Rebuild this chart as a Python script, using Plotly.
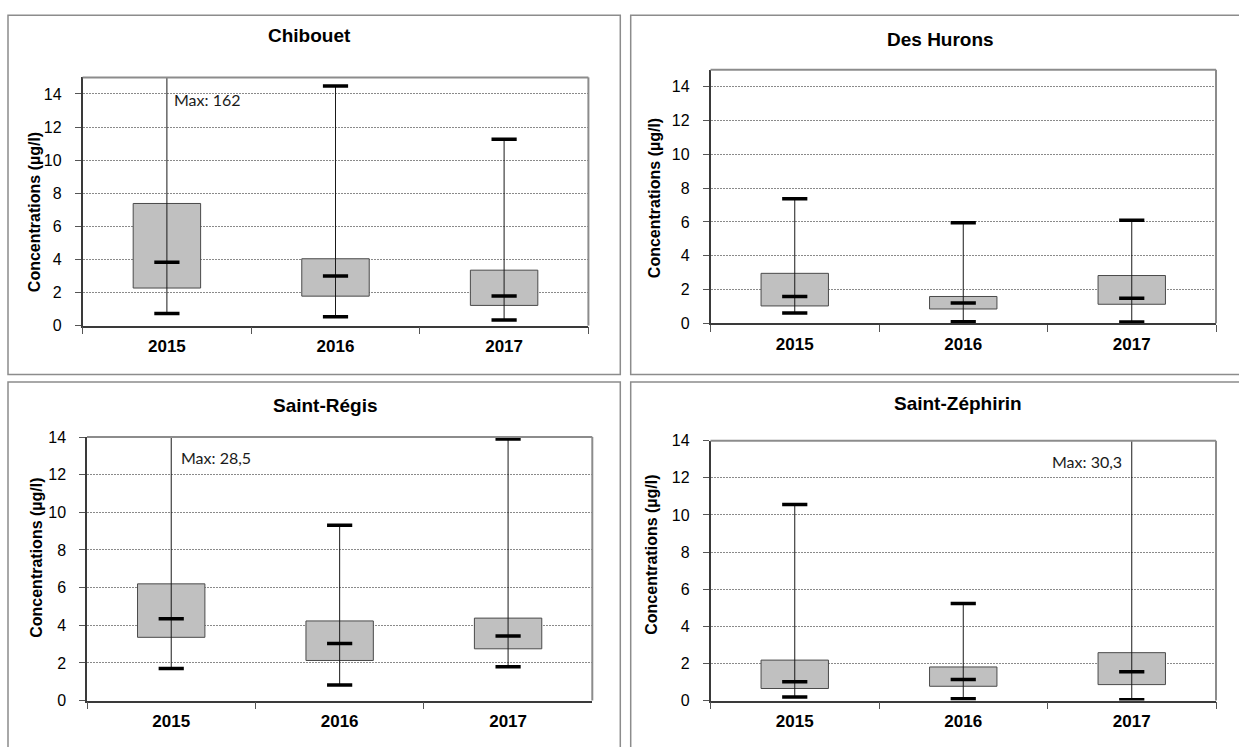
import plotly.graph_objects as go

# ---- data (µg/l) ----
years = ["2015", "2016", "2017"]
stations = ["Chibouet", "Des Hurons", "Saint-Régis", "Saint-Zéphirin"]

chibouet_min = [0.73, 0.53, 0.34]
chibouet_q1 = [2.27, 1.78, 1.22]
chibouet_med = [3.83, 3.00, 1.79]
chibouet_q3 = [7.38, 4.04, 3.35]
chibouet_max = [162, 14.48, 11.26]

hurons_min = [0.62, 0.10, 0.08]
hurons_q1 = [1.03, 0.85, 1.13]
hurons_med = [1.59, 1.20, 1.49]
hurons_q3 = [2.96, 1.59, 2.83]
hurons_max = [7.38, 5.95, 6.10]

regis_min = [1.71, 0.83, 1.80]
regis_q1 = [3.36, 2.13, 2.75]
regis_med = [4.35, 3.03, 3.43]
regis_q3 = [6.20, 4.23, 4.38]
regis_max = [28.5, 9.31, 13.90]

zephirin_min = [0.19, 0.10, 0.05]
zephirin_q1 = [0.65, 0.77, 0.86]
zephirin_med = [1.02, 1.14, 1.55]
zephirin_q3 = [2.18, 1.81, 2.58]
zephirin_max = [10.56, 5.23, 30.3]

y_max = [15, 15, 14, 14]
y_title = "Concentrations (µg/l)"

series = [
    (chibouet_min, chibouet_q1, chibouet_med, chibouet_q3, chibouet_max),
    (hurons_min, hurons_q1, hurons_med, hurons_q3, hurons_max),
    (regis_min, regis_q1, regis_med, regis_q3, regis_max),
    (zephirin_min, zephirin_q1, zephirin_med, zephirin_q3, zephirin_max),
]

# ---- layout geometry (pixels) ----
W, H = 1239, 747
# plot areas: left, right, top, bottom
plot_px = [
    (82.6, 588.4, 71.0, 325.0),
    (710.5, 1216.0, 63.3, 322.7),
    (87.0, 592.3, 439.0, 708.7),
    (710.5, 1216.0, 442.7, 708.7),
]
# outer frames: left, right, top, bottom
frame_px = [
    (8.0, 620.3, 7.3, 375.0),
    (630.7, 1250.0, 7.3, 375.0),
    (8.0, 620.3, 382.7, 760.0),
    (630.7, 1250.0, 382.7, 760.0),
]
title_px = [(309.5, 28.5), (940.0, 32.3), (325.0, 406.7), (958.0, 405.0)]
ytitle_px = [(34.4, 208.5), (654.6, 195.0), (36.6, 563.0), (651.5, 560.0)]


def px_x(v):
    return v / W


def px_y(v):
    return 1 - v / H


def fmt(v):
    s = f"{v:g}"
    return s.replace(".", ",")


fig = go.Figure()
AXIS_FONT = "Liberation Sans, Arial, sans-serif"

for i, (mn, q1, med, q3, mx) in enumerate(series):
    n = "" if i == 0 else str(i + 1)
    xa, ya = "x" + n, "y" + n
    # whiskers (min to max), behind the box
    wx, wy = [], []
    for k, yr in enumerate(years):
        wx += [yr, yr, None]
        wy += [mn[k], mx[k], None]
    fig.add_trace(go.Scatter(x=wx, y=wy, mode="lines", xaxis=xa, yaxis=ya,
                             line=dict(color="#1a1a1a", width=1),
                             hoverinfo="skip", showlegend=False))
    # interquartile box
    fig.add_trace(go.Bar(x=years, y=[b - a for a, b in zip(q1, q3)], base=q1,
                         width=0.4, xaxis=xa, yaxis=ya,
                         marker=dict(color="#c0c0c0",
                                     line=dict(color="#4a4a4a", width=1)),
                         showlegend=False))
    # caps and median ticks
    for vals in (mn, mx, med):
        fig.add_trace(go.Scatter(x=years, y=vals, mode="markers", xaxis=xa, yaxis=ya,
                                 marker=dict(symbol="line-ew", size=18,
                                             line=dict(color="#000000", width=3.5)),
                                 hoverinfo="skip", showlegend=False))

    L, R, T, B = plot_px[i]
    fig.layout["xaxis" + n] = dict(
        domain=[px_x(L), px_x(R)], anchor=ya, type="category",
        categoryorder="array", categoryarray=years, range=[-0.5, 2.5],
        tickson="boundaries", ticks="outside", ticklen=7, tickcolor="#555555",
        showline=True, linecolor="#3a3a3a", linewidth=1.5, showgrid=False,
        tickfont=dict(family=AXIS_FONT, size=17, color="#000000", weight="bold"),
        ticklabelstandoff=4, fixedrange=True,
    )
    fig.layout["yaxis" + n] = dict(
        domain=[px_y(B), px_y(T)], anchor=xa, range=[0, y_max[i]],
        tick0=0, dtick=2, ticks="outside", ticklen=6, tickcolor="#555555",
        showline=True, linecolor="#3a3a3a", linewidth=1.5,
        showgrid=True, gridcolor="#8a8a8a", gridwidth=1, griddash="2px,1px",
        zeroline=False,
        tickfont=dict(family=AXIS_FONT, size=16, color="#000000"),
        ticklabelstandoff=10, fixedrange=True,
    )
    # grey top/right edges of the plot area
    fig.add_shape(type="line", xref=xa + " domain", yref=ya + " domain",
                  x0=0, x1=1, y0=1, y1=1, line=dict(color="#8c8c8c", width=2))
    fig.add_shape(type="line", xref=xa + " domain", yref=ya + " domain",
                  x0=1, x1=1, y0=0, y1=1, line=dict(color="#8c8c8c", width=2))
    # outer chart frame
    fl, fr, ft, fb = frame_px[i]
    fig.add_shape(type="rect", xref="paper", yref="paper",
                  x0=px_x(fl), x1=px_x(fr), y0=px_y(fb), y1=px_y(ft),
                  line=dict(color="#8c8c8c", width=1.5), layer="below")
    # panel title
    tx, ty = title_px[i]
    fig.add_annotation(text=f"<b>{stations[i]}</b>", xref="paper", yref="paper",
                       x=px_x(tx), y=px_y(ty), xanchor="center", yanchor="middle",
                       showarrow=False,
                       font=dict(family=AXIS_FONT, size=19, color="#000000"))
    # y-axis title
    ax, ay = ytitle_px[i]
    fig.add_annotation(text=f"<b>{y_title}</b>", xref="paper", yref="paper",
                       x=px_x(ax), y=px_y(ay), xanchor="center", yanchor="middle",
                       textangle=-90, showarrow=False,
                       font=dict(family=AXIS_FONT, size=16, color="#000000"))

# labels for maxima that fall outside the axis range
MAX_FONT = dict(family="Lato, Carlito, sans-serif", size=16, color="#1a1a1a")
off_scale = [
    (0, 0, 13.67, "left", 5),
    (2, 0, 12.9, "left", 8),
    (3, 2, 12.86, "right", -8),
]
for panel, k, ypos, anchor, shift in off_scale:
    n = "" if panel == 0 else str(panel + 1)
    # category axes take the category index as position
    fig.add_annotation(text=f"Max: {fmt(series[panel][4][k])}",
                       xref="x" + n, yref="y" + n, x=k, y=ypos,
                       xanchor=anchor, yanchor="middle", xshift=shift,
                       showarrow=False, font=MAX_FONT)

fig.update_layout(
    width=W, height=H, margin=dict(l=0, r=0, t=0, b=0),
    paper_bgcolor="#ffffff", plot_bgcolor="#ffffff",
    barmode="overlay", showlegend=False,
)

fig.write_html("out.html", config={"displayModeBar": False})
